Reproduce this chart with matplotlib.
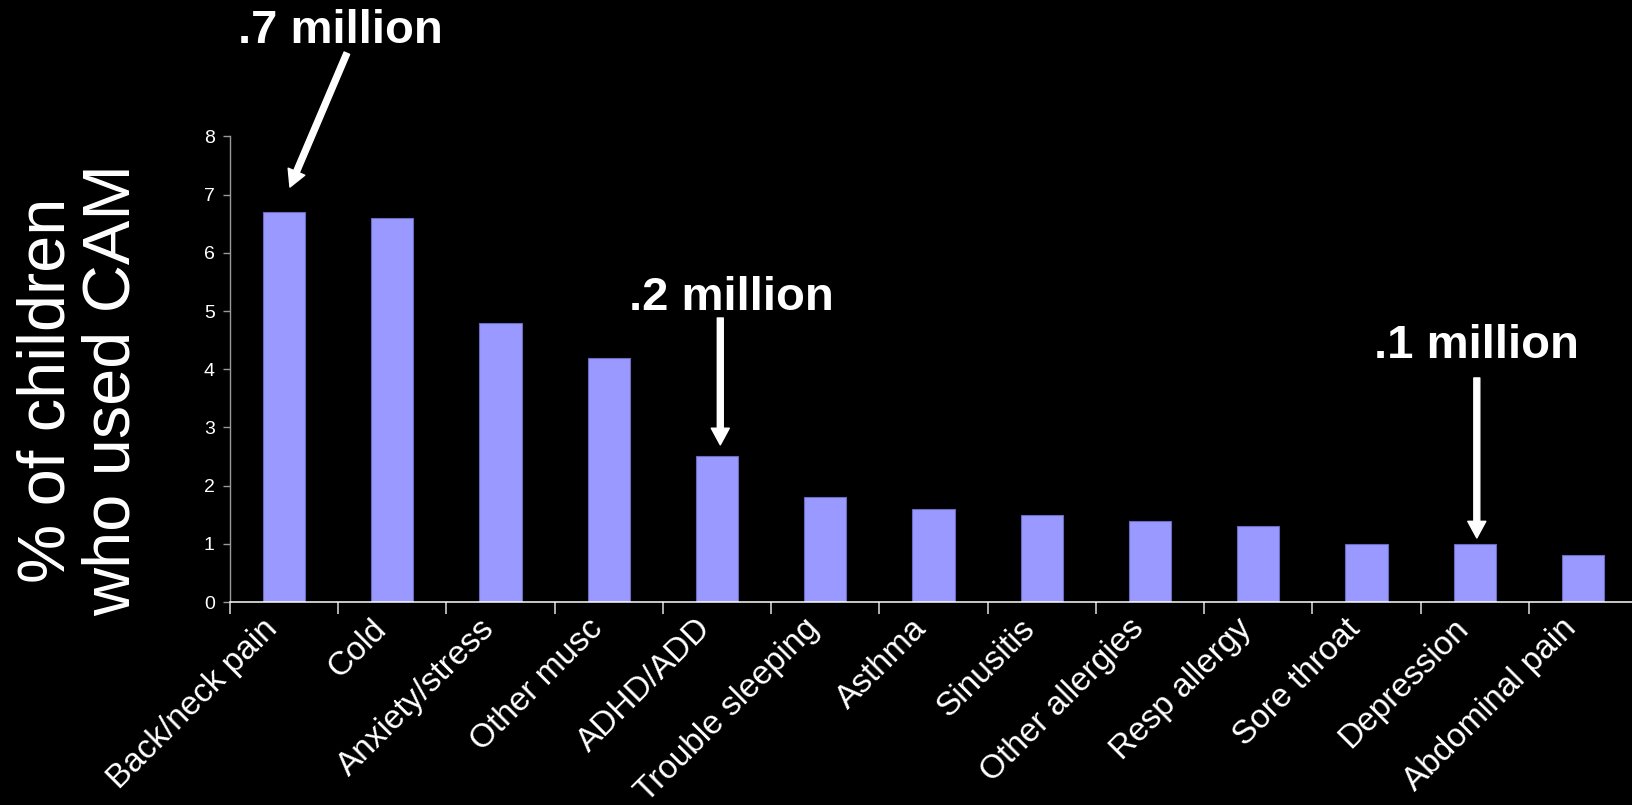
import matplotlib
matplotlib.use("Agg")
import matplotlib.pyplot as plt
from matplotlib.transforms import ScaledTranslation
import numpy as np

plt.rcParams['font.family'] = ['Liberation Sans', 'DejaVu Sans']

# share of children using CAM, by condition
conditions = ["Back/neck pain", "Cold", "Anxiety/stress", "Other musc", "ADHD/ADD",
              "Trouble sleeping", "Asthma", "Sinusitis", "Other allergies",
              "Resp allergy", "Sore throat", "Depression", "Abdominal pain"]
pct_used = [6.7, 6.6, 4.8, 4.2, 2.5, 1.8, 1.6, 1.5, 1.4, 1.3, 1.0, 1.0, 0.8]

# callouts: text, text position, arrow start, arrow tip
callout_text = [".7 million", ".2 million", ".1 million"]
callout_xy = [(0.516, 9.60), (4.135, 5.02), (11.015, 4.19)]
arrow_from = [(0.58, 9.43), (4.03, 4.88), (11.02, 3.85)]
arrow_to = [(0.054, 7.13), (4.03, 2.70), (11.02, 1.10)]

W, H = 1633, 805
fig = plt.figure(figsize=(W / 100, H / 100), dpi=100, facecolor='black')
ax = fig.add_axes([230 / W, 203 / H, 1407 / W, 465.6 / H], facecolor='black')

x = np.arange(len(conditions))
ax.bar(x, pct_used, width=0.39, color='#9999ff', edgecolor='#6b6bc0', linewidth=0.8, zorder=2)

ax.set_xlim(-0.5, len(conditions) - 0.5)
ax.set_ylim(0, 8)
ax.set_yticks(range(0, 9))
ax.tick_params(axis='y', colors='#9a9a9a', labelcolor='white', labelsize=14,
               length=5, width=1, direction='out', pad=6)

# category labels at centres, tick marks at the boundaries
ax.set_xticks(x)
ax.set_xticklabels(conditions, fontsize=24, color='white')
ax.set_xticks(np.arange(-0.5, len(conditions)), minor=True)
ax.tick_params(axis='x', which='major', length=0, pad=8)
ax.tick_params(axis='x', which='minor', length=8.6, width=1.1, colors='#e0e0e0', direction='out')
shift = ScaledTranslation(-0.22, 0, fig.dpi_scale_trans)
for lab in ax.get_xticklabels():
    lab.set_rotation(45)
    lab.set_rotation_mode('anchor')
    lab.set_ha('right')
    lab.set_va('top')
    lab.set_transform(lab.get_transform() + shift)

for side in ['top', 'right']:
    ax.spines[side].set_visible(False)
ax.spines['left'].set_color('#9a9a9a')
ax.spines['left'].set_linewidth(1)
ax.spines['bottom'].set_color('white')
ax.spines['bottom'].set_linewidth(1.1)

fig.text(80 / W, 1 - 390 / H, "% of children\nwho used CAM", rotation=90, color='white',
         fontsize=48, ha='center', va='center', multialignment='center', linespacing=1.05)

for txt, pos, start, tip in zip(callout_text, callout_xy, arrow_from, arrow_to):
    ax.text(pos[0], pos[1], txt, color='white', fontsize=34, fontweight='bold',
            ha='center', va='baseline', clip_on=False)
    ax.annotate("", xy=tip, xytext=start, annotation_clip=False,
                arrowprops=dict(width=4.3, headwidth=13, headlength=12,
                                color='white', shrink=0))

fig.savefig("out.png", dpi=100, facecolor='black')
